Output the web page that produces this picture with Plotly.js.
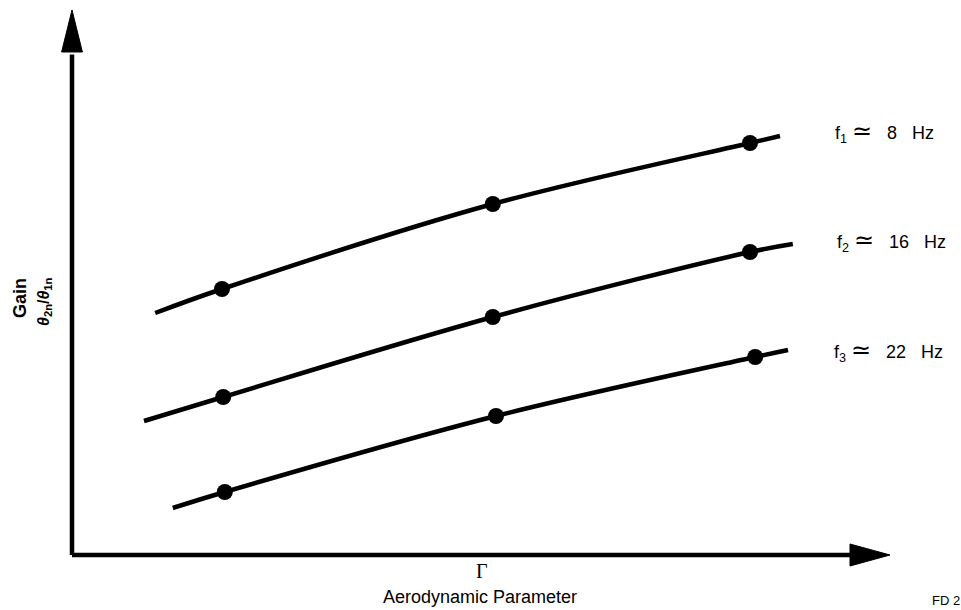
<!DOCTYPE html>
<html>
<head>
<meta charset="utf-8">
<script src="https://cdn.plot.ly/plotly-3.0.1.min.js"></script>
<style>html,body{margin:0;padding:0;background:#fff;overflow:hidden}#chart{width:961px;height:610px}</style>
</head>
<body>
<div id="chart"></div>
<script>
// Schematic data (arbitrary units): aerodynamic parameter Γ vs gain θ2n/θ1n
const gammaF1 = [1.04, 1.875, 5.26, 8.475, 8.85];
const gainF1  = [4.84, 5.32, 7.02, 8.24, 8.38];
const gammaF2 = [0.90, 1.89, 5.26, 8.475, 9.01];
const gainF2  = [2.68, 3.16, 4.76, 6.06, 6.22];
const gammaF3 = [1.26, 1.91, 5.30, 8.54, 8.95];
const gainF3  = [0.94, 1.26, 2.78, 3.96, 4.10];
const hasPoint = [false, true, true, true, false];
const seriesSubs = ["1", "2", "3"];
const seriesFreqs = ["8", "16", "22"];
const xAxisSymbol = "\u0393";
const xAxisTitle = "Aerodynamic Parameter";
const yAxisTitle = "<b>Gain</b>";
const yAxisSub = "<b><i>\u03b8</i><sub>2n</sub>/<i>\u03b8</i><sub>1n</sub></b>";
const figId = "FD 2";

const series = [[gammaF1, gainF1], [gammaF2, gainF2], [gammaF3, gainF3]];
const traces = [];
series.forEach(([xs, ys]) => {
  traces.push({x: xs, y: ys, mode: 'lines', type: 'scatter',
    line: {color: '#000', width: 4.5, shape: 'spline', smoothing: 1},
    hoverinfo: 'skip', showlegend: false});
  traces.push({x: xs.filter((_, i) => hasPoint[i]), y: ys.filter((_, i) => hasPoint[i]),
    mode: 'markers', type: 'scatter',
    marker: {color: '#000', size: 16}, hoverinfo: 'skip', showlegend: false});
});

// axis geometry (data units)
const xMin = -0.9, xMax = 11.1125, yMin = -1.1, yMax = 11.1;
const xTip = 10.225, xHeadBase = 9.725, xHeadHalf = 0.22;
const yTip = 10.9, yHeadBase = 10.06, yHeadHalf = 0.13;

const shapes = [
  {type: 'line', x0: 0, y0: 0, x1: xHeadBase + 0.05, y1: 0, line: {color: '#000', width: 4.5}},
  {type: 'line', x0: 0, y0: 0, x1: 0, y1: yHeadBase - 0.05, line: {color: '#000', width: 4.5}},
  {type: 'path', path: `M ${xTip} 0 L ${xHeadBase} ${xHeadHalf} L ${xHeadBase} ${-xHeadHalf} Z`,
   fillcolor: '#000', line: {color: '#000', width: 1}},
  {type: 'path', path: `M 0 ${yTip} L ${-yHeadHalf} ${yHeadBase} L ${yHeadHalf} ${yHeadBase} Z`,
   fillcolor: '#000', line: {color: '#000', width: 1}}
];

const sans = 'Liberation Sans, Arial, sans-serif';
const labelFont = {family: sans, size: 18, color: '#000'};
const nb = '\u00a0';
const labelPos = [[9.51, 8.48], [9.54, 6.3], [9.5, 4.1]];
const annotations = seriesSubs.map((s, i) => ({
  text: 'f<sub>' + s + '</sub>' + nb + '<span style="font-size:24px">\u2243</span>' + nb + nb + nb +
        seriesFreqs[i] + nb + nb + nb + 'Hz',
  x: labelPos[i][0], y: labelPos[i][1], xref: 'x', yref: 'y',
  xanchor: 'left', yanchor: 'middle', showarrow: false, font: labelFont
}));
annotations.push(
  {text: xAxisSymbol, x: 5.13, y: -0.32, xref: 'x', yref: 'y', showarrow: false,
   font: {family: 'Liberation Serif, serif', size: 20, color: '#000'}},
  {text: xAxisTitle, x: 5.1, y: -0.84, xref: 'x', yref: 'y', showarrow: false,
   font: {family: sans, size: 18, color: '#000'}},
  {text: yAxisTitle, x: -0.65, y: 5.14, xref: 'x', yref: 'y', showarrow: false, textangle: -90,
   font: {family: sans, size: 18, color: '#000'}},
  {text: yAxisSub, x: -0.35, y: 5.06, xref: 'x', yref: 'y', showarrow: false, textangle: -90,
   font: {family: sans, size: 16, color: '#000'}},
  {text: figId, x: 10.72, y: -0.9, xref: 'x', yref: 'y', xanchor: 'left', showarrow: false,
   font: {family: sans, size: 13, color: '#000'}}
);

const layout = {
  width: 961, height: 610,
  margin: {l: 0, r: 0, t: 0, b: 0, pad: 0},
  paper_bgcolor: '#fff', plot_bgcolor: '#fff',
  xaxis: {range: [xMin, xMax], visible: false, fixedrange: true},
  yaxis: {range: [yMin, yMax], visible: false, fixedrange: true},
  shapes: shapes, annotations: annotations, showlegend: false
};
Plotly.newPlot('chart', traces, layout, {displayModeBar: false, staticPlot: true});
</script>
</body>
</html>
